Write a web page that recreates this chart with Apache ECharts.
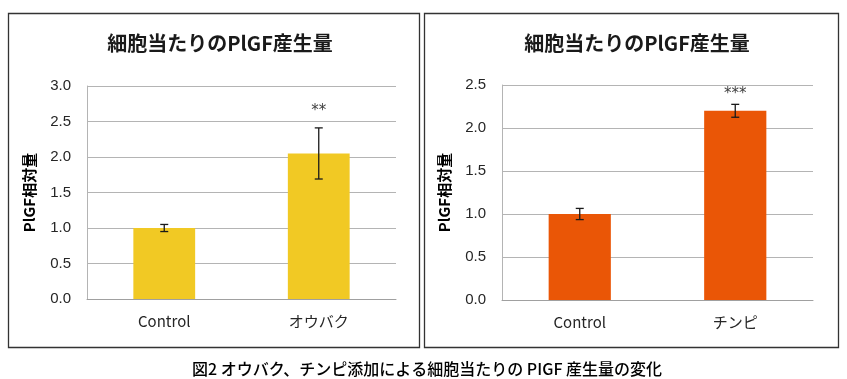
<!DOCTYPE html>
<html>
<head>
<meta charset="utf-8">
<script src="https://cdn.jsdelivr.net/npm/echarts@6/dist/echarts.min.js"></script>
<style>
html,body{margin:0;padding:0;background:#fff;}
#c{width:847px;height:379px;}
</style>
</head>
<body>
<div id="c"></div>
<script>
// ---- data ----
const titleText = '細胞当たりのPlGF産生量';
const yAxisName = 'PlGF相対量';
const captionText = '図2 オウバク、チンピ添加による細胞当たりの PIGF 産生量の変化';

const categoriesA = ['Control', 'オウバク'];
const valuesA = [1.00, 2.05];
const errorsA = [0.05, 0.36];
const starsA = ['', '**'];
const maxA = 3.0;

const categoriesB = ['Control', 'チンピ'];
const valuesB = [1.00, 2.20];
const errorsB = [0.065, 0.075];
const starsB = ['', '***'];
const maxB = 2.5;

const tickInterval = 0.5;

// ---- styles ----
const yellow = '#F1C924';
const orange = '#EA5606';
const gridColor = '#B4B4B4';
const jp = '"Noto Sans CJK JP", "Noto Sans", sans-serif';

const chart = echarts.init(document.getElementById('c'), null, {renderer: 'canvas'});

function xAxisCfg(idx, cats) {
  return {
    type: 'category', gridIndex: idx, data: cats,
    axisLine: {show: true, lineStyle: {color: '#A0A0A0', width: 1}},
    axisTick: {show: false},
    axisLabel: {margin: 15, fontSize: 15, color: '#262626', fontFamily: jp}
  };
}
function yAxisCfg(idx, max) {
  return {
    type: 'value', gridIndex: idx, min: 0, max: max, interval: tickInterval,
    name: yAxisName, nameLocation: 'middle', nameGap: 50, nameRotate: 90,
    nameTextStyle: {fontSize: 15, fontWeight: 'bold', color: '#000', fontFamily: jp},
    axisLine: {show: true, lineStyle: {color: '#B4B4B4', width: 1}},
    axisTick: {show: false},
    axisLabel: {margin: 16, fontSize: 15, color: '#262626', fontFamily: '"Liberation Sans", Arial, sans-serif',
      formatter: v => v.toFixed(1)},
    splitLine: {show: true, lineStyle: {color: gridColor, width: 1}}
  };
}
function errSeries(idx, vals, errs, stars, starGap) {
  return {
    type: 'custom', xAxisIndex: idx, yAxisIndex: idx, z: 5,
    data: vals.map((v, i) => [i, v, errs[i], stars[i]]),
    renderItem: function (params, api) {
      const i = api.value(0), v = api.value(1), e = api.value(2);
      const star = stars[i];
      const top = api.coord([i, v + e]);
      const bot = api.coord([i, v - e]);
      const cw = 4;
      const style = {stroke: '#1a1a1a', lineWidth: 1.3};
      const children = [
        {type: 'line', shape: {x1: top[0], y1: top[1], x2: bot[0], y2: bot[1]}, style: style},
        {type: 'line', shape: {x1: top[0] - cw, y1: top[1], x2: top[0] + cw, y2: top[1]}, style: style},
        {type: 'line', shape: {x1: bot[0] - cw, y1: bot[1], x2: bot[0] + cw, y2: bot[1]}, style: style}
      ];
      if (star) {
        children.push({type: 'text', style: {text: star, x: top[0], y: top[1] - starGap,
          align: 'center', verticalAlign: 'middle', fontSize: 15, fill: '#404040',
          fontFamily: '"DejaVu Sans", sans-serif'}});
      }
      return {type: 'group', children: children};
    }
  };
}

const option = {
  animation: false,
  backgroundColor: '#fff',
  title: [
    {text: titleText, left: 215, top: 28, textAlign: 'center',
      textStyle: {fontSize: 20, fontWeight: 'bold', color: '#1a1a1a', fontFamily: jp}},
    {text: titleText, left: 632, top: 28, textAlign: 'center',
      textStyle: {fontSize: 20, fontWeight: 'bold', color: '#1a1a1a', fontFamily: jp}}
  ],
  grid: [
    {left: 87, top: 86, width: 309, height: 213},
    {left: 502, top: 85, width: 311, height: 215}
  ],
  xAxis: [xAxisCfg(0, categoriesA), xAxisCfg(1, categoriesB)],
  yAxis: [yAxisCfg(0, maxA), yAxisCfg(1, maxB)],
  series: [
    {type: 'bar', xAxisIndex: 0, yAxisIndex: 0, data: valuesA, barWidth: '40%',
      itemStyle: {color: yellow}},
    {type: 'bar', xAxisIndex: 1, yAxisIndex: 1, data: valuesB, barWidth: '40%',
      itemStyle: {color: orange}},
    errSeries(0, valuesA, errorsA, starsA, 17),
    errSeries(1, valuesB, errorsB, starsB, 10)
  ],
  graphic: [
    {type: 'rect', shape: {x: 8.5, y: 13.5, width: 411, height: 334}, style: {fill: 'none', stroke: '#333', lineWidth: 1.3}, silent: true},
    {type: 'rect', shape: {x: 424.5, y: 13.5, width: 414, height: 334}, style: {fill: 'none', stroke: '#333', lineWidth: 1.3}, silent: true},
    {type: 'text', x: 427, y: 369,
      style: {text: captionText, fontSize: 16, fontWeight: 500, fill: '#000', fontFamily: jp,
        align: 'center', verticalAlign: 'middle'}}
  ]
};
chart.setOption(option);
</script>
</body>
</html>
